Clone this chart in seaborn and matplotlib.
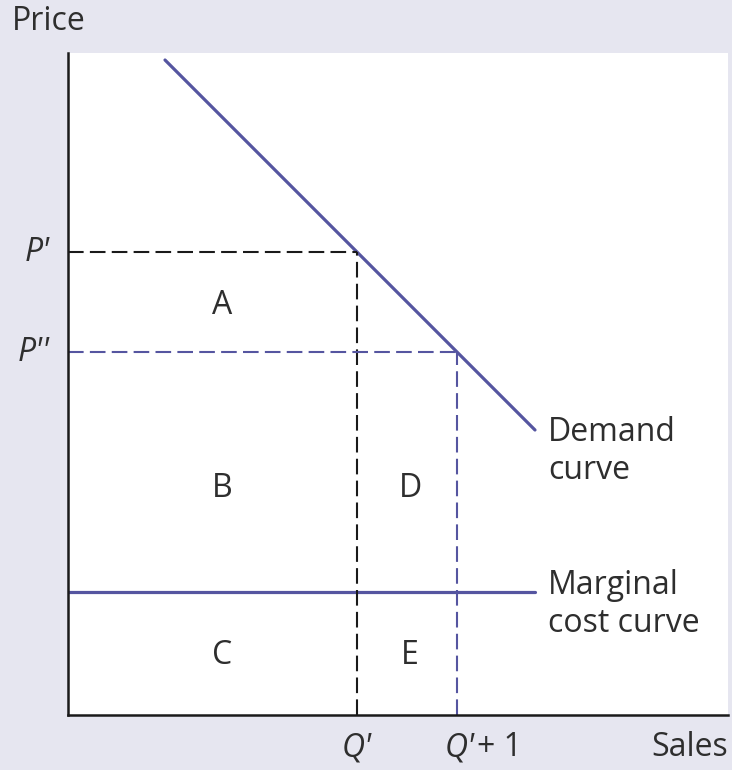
import matplotlib
matplotlib.use("Agg")
import matplotlib.pyplot as plt
import seaborn as sns
import pandas as pd

# data (arbitrary units, origin at lower-left of the axes)
demand_x = [97, 467]
demand_y = [655, 285]
mc_x = [0, 467]
mc_y = [123, 123]
q1 = 289      # Q'
q2 = 389      # Q'+1
p1 = 463      # P'
p2 = 363      # P''
x_ticks = [q1, q2]
x_tick_labels = ["Q'", "Q'+1"]
y_ticks = [p1, p2]
y_tick_labels = ["P'", "P''"]
area_labels = ["A", "B", "C", "D", "E"]

sns.set_theme(style="white")
plt.rcParams['font.family'] = ['Open Sans', 'DejaVu Sans']

BG = "#e6e6f0"
LINE = "#5555a0"
TXT = "#2e2e2e"

fig = plt.figure(figsize=(7.32, 7.7), dpi=100, facecolor=BG)
ax = fig.add_axes([68/732, 55/770, 660/732, 662/770])
ax.set_facecolor("white")

demand = pd.DataFrame({"x": demand_x, "y": demand_y})
mc = pd.DataFrame({"x": mc_x, "y": mc_y})
sns.lineplot(data=demand, x="x", y="y", ax=ax, color=LINE, lw=2.3)
sns.lineplot(data=mc, x="x", y="y", ax=ax, color=LINE, lw=2.3)

dash = (0, (7.5, 3))
ax.plot([0, q1], [p1, p1], color="#1a1a1a", lw=1.5, ls=dash)
ax.plot([q1, q1], [0, p1], color="#1a1a1a", lw=1.5, ls=dash)
ax.plot([0, q2], [p2, p2], color=LINE, lw=1.5, ls=dash)
ax.plot([q2, q2], [0, p2], color=LINE, lw=1.5, ls=dash)

ax.set_xlim(0, 660)
ax.set_ylim(0, 662)
ax.set_xticks([])
ax.set_yticks([])
ax.set_xlabel("")
ax.set_ylabel("")
for s in ["top", "right"]:
    ax.spines[s].set_visible(False)
for s in ["left", "bottom"]:
    ax.spines[s].set_color("#1a1a1a")
    ax.spines[s].set_linewidth(1.8)

fs = 23
# area letters
pos = [(154, 410), (154, 227), (154, 60), (342, 227), (342, 60)]
for lab, (x, y) in zip(area_labels, pos):
    ax.text(x, y, lab, fontsize=fs, color=TXT, ha="center", va="center")

# curve labels
ax.text(480, 264, "Demand\ncurve", fontsize=fs, color=TXT, ha="left", va="center", linespacing=1.2)
ax.text(480, 110, "Marginal\ncost curve", fontsize=fs, color=TXT, ha="left", va="center", linespacing=1.2)

# tick labels
for x, lab in zip(x_ticks, x_tick_labels):
    if lab == "Q'":
        ax.text(x, -33, "Q'", fontsize=fs, color=TXT, ha="center", va="center", style="italic")
    else:
        ax.text(x - 12, -33, "Q'", fontsize=fs, color=TXT, ha="left", va="center", style="italic")
        ax.text(x + 20, -33, "+ 1", fontsize=fs, color=TXT, ha="left", va="center")
for y, lab in zip(y_ticks, y_tick_labels):
    ax.text(-18, y, lab, fontsize=fs, color=TXT, ha="right", va="center", style="italic")

fig.text(12/732, 1 - 22/770, "Price", fontsize=fs, color=TXT, ha="left", va="center")
fig.text(728/732, 1 - 748/770, "Sales", fontsize=fs, color=TXT, ha="right", va="center")

fig.savefig("out.png", dpi=100, facecolor=BG)
